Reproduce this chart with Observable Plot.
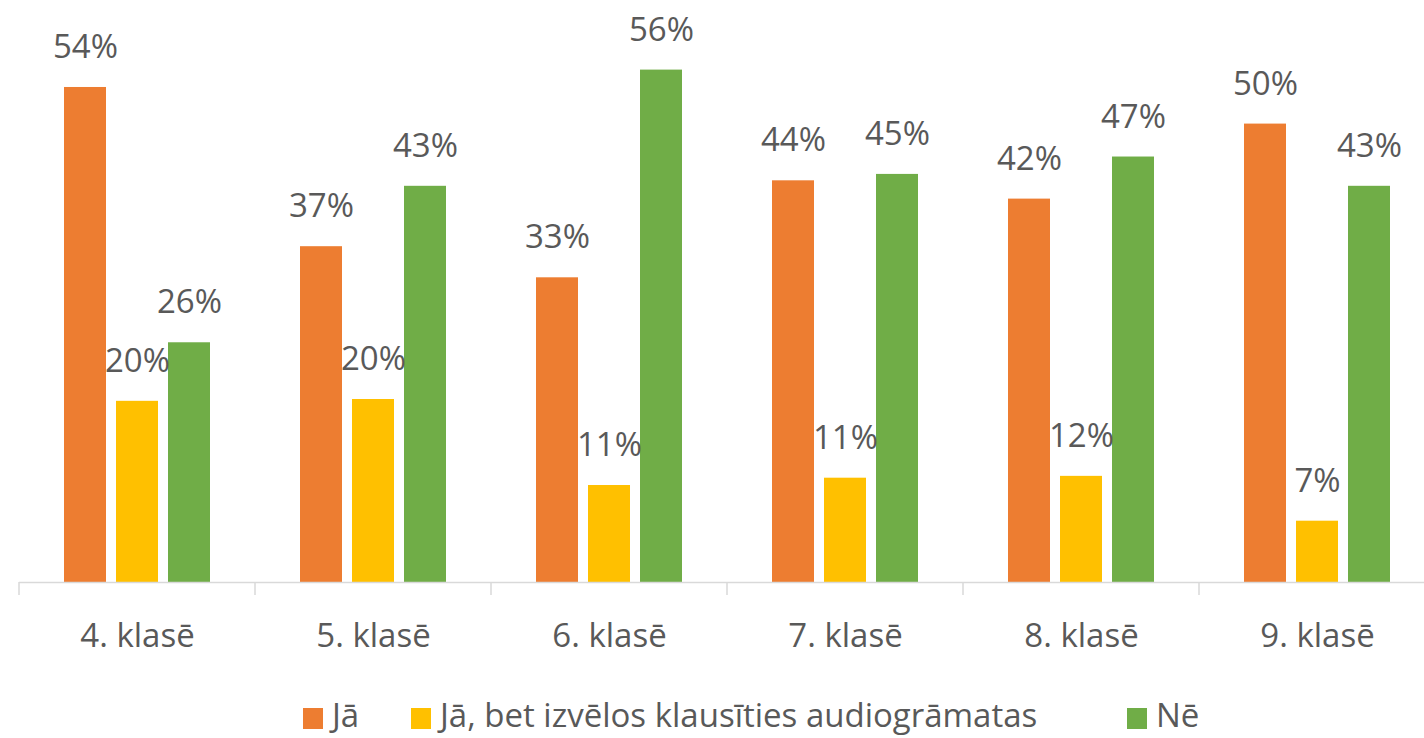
<!DOCTYPE html>
<html>
<head>
<meta charset="utf-8">
<script src="https://cdn.jsdelivr.net/npm/d3@7"></script>
<script src="https://cdn.jsdelivr.net/npm/@observablehq/plot@0.6"></script>
<style>
  html, body { margin: 0; padding: 0; background: #fff; overflow: hidden; }
  #wrap { width: 1424px; height: 738px; overflow: hidden; position: relative; font-family: "Open Sans", sans-serif; }
  #chart svg { max-width: none !important; }
  #legend { position: relative; height: 48px; font-size: 33px; color: #595959; }
  .item { position: absolute; top: 8px; display: flex; align-items: flex-start; height: 33px; white-space: nowrap; }
  .sw { width: 20px; height: 21px; margin-right: 9px; margin-top: 10px; }
  .lbl { line-height: 33px; height: 33px; }
</style>
</head>
<body>
<div id="wrap"><div id="chart"></div><div id="legend"></div></div>
<script>
const classes = ["4. klasē", "5. klasē", "6. klasē", "7. klasē", "8. klasē", "9. klasē"];
const series = ["Jā", "Jā, bet izvēlos klausīties audiogrāmatas", "Nē"];
const ja = [54.1, 36.7, 33.3, 43.9, 41.9, 50.1];
const jaAudio = [19.8, 20.0, 10.6, 11.4, 11.6, 6.7];
const ne = [26.2, 43.3, 56.0, 44.6, 46.5, 43.3];
const colors = ["#ED7D31", "#FFC000", "#70AD47"];

const seriesValues = [ja, jaAudio, ne];
const data = classes.flatMap((c, i) => series.map((s, j) => ({cls: c, series: s, value: seriesValues[j][i]})));

const chart = Plot.plot({
  width: 1435,
  height: 690,
  marginLeft: 19,
  marginRight: 0,
  marginTop: 33,
  marginBottom: 108,
  style: {fontFamily: "Open Sans", fontSize: "33px", color: "#595959", background: "white", overflow: "visible", maxWidth: "none"},
  fx: {domain: classes, padding: 0, label: null},
  x: {domain: series, paddingInner: 0.2, paddingOuter: 0.848, axis: null},
  y: {domain: [0, 60], axis: null},
  color: {domain: series, range: colors},
  marks: [
    Plot.barY(data, {fx: "cls", x: "series", y: "value", fill: "series"}),
    Plot.ruleY([0], {stroke: "#D9D9D9", strokeWidth: 1.5}),
    Plot.text(data, {fx: "cls", x: "series", y: "value", text: d => Math.round(d.value) + "%", dy: -40, fill: "#595959", fontSize: 33}),
    Plot.axisFx({anchor: "bottom", tickSize: 0, tickPadding: 41, fontSize: 33, fill: "#595959", label: null})
  ]
});
document.getElementById("chart").appendChild(chart);

// boundary tick marks between categories, positioned with Plot's own scales
const fxs = chart.scale("fx");
const ys = chart.scale("y");
const y0 = ys.apply(0);
const bw = fxs.bandwidth;
const edges = classes.map(c => fxs.apply(c)).concat([fxs.apply(classes[classes.length - 1]) + bw]);
const g = d3.select(chart).append("g").attr("stroke", "#D9D9D9").attr("stroke-width", 1.5);
edges.forEach(x => g.append("line").attr("x1", x).attr("x2", x).attr("y1", y0).attr("y2", y0 + 13));

// legend
const legendPos = [303, 411, 1127];
const leg = document.getElementById("legend");
series.forEach((s, i) => {
  const it = document.createElement("div");
  it.className = "item";
  it.style.left = legendPos[i] + "px";
  it.innerHTML = `<div class="sw" style="background:${colors[i]}"></div><div class="lbl">${s}</div>`;
  leg.appendChild(it);
});
</script>
</body>
</html>
